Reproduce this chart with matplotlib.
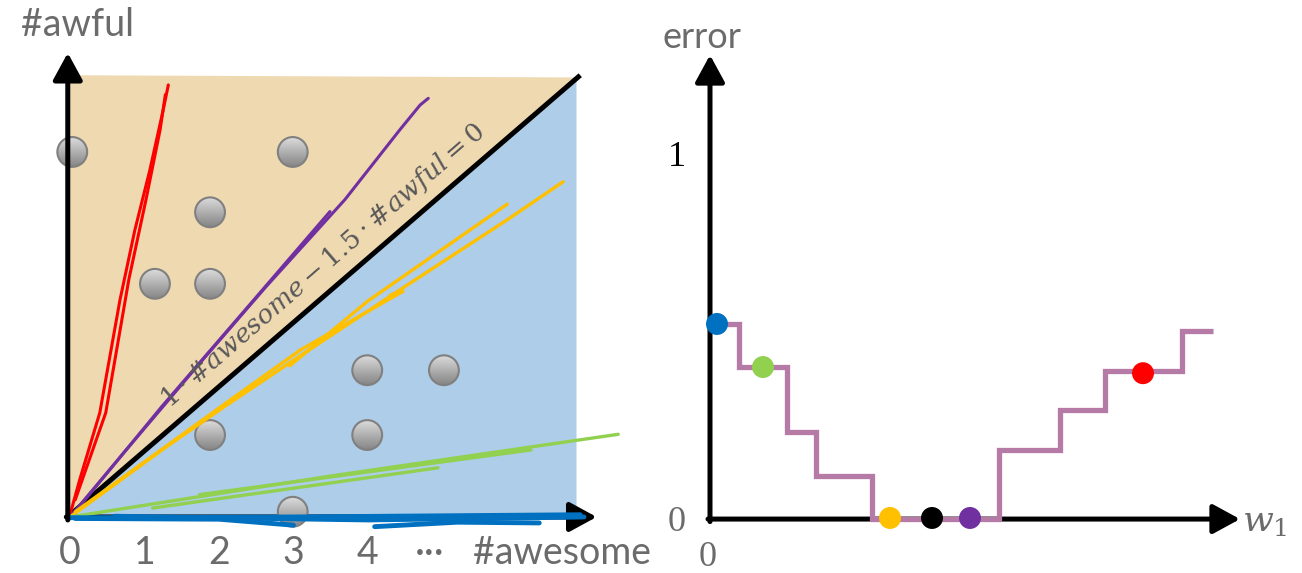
import numpy as np
import matplotlib
matplotlib.use('Agg')
import matplotlib.pyplot as plt
from matplotlib.patches import Polygon, Circle

plt.rcParams['font.family'] = ['Lato', 'DejaVu Sans']
plt.rcParams['mathtext.fontset'] = 'dejavuserif'

GRAY = '#6b6b6b'

# ---- left panel: points in (#awesome, #awful) space ----
top_x, top_y = 6.80, 5.93            # corner of the shaded region
pts_x = [0.03, 2.99, 1.88, 1.14, 1.88, 3.99, 5.02, 1.88, 3.99, 2.99]
pts_y = [4.90, 4.90, 4.09, 3.13, 3.13, 1.97, 1.97, 1.10, 1.10, 0.07]
pt_r = 0.2
tick_vals = [0, 1, 2, 3, 4]

# hand drawn candidate boundaries (several strokes each)
red_strokes = [
    ([0.0, 0.13, 0.40, 0.67, 0.87, 1.07, 1.25, 1.32],
     [0.03, 0.50, 1.40, 2.91, 3.85, 4.65, 5.46, 5.80]),
    ([0.07, 0.48, 0.79, 1.02, 1.21, 1.28],
     [0.23, 1.40, 3.19, 4.26, 5.20, 5.67]),
]
purple_strokes = [
    ([0.0, 0.72, 1.79, 2.63, 3.69, 4.43, 4.70, 4.81],
     [0.0, 0.86, 2.12, 3.09, 4.26, 5.20, 5.53, 5.62]),
    ([0.07, 1.23, 2.24, 3.49],
     [0.07, 1.48, 2.65, 4.10]),
]
orange_strokes = [
    ([0.0, 1.29, 2.07, 2.95, 4.43, 5.87, 6.62],
     [0.0, 0.94, 1.48, 2.07, 3.05, 3.99, 4.50]),
    ([0.07, 2.15, 3.09, 4.47, 4.30],
     [0.07, 1.57, 2.24, 3.03, 2.98]),
    ([2.95, 4.00, 5.87],
     [2.03, 2.90, 4.20]),
]
green_strokes = [
    ([0.0, 3.50, 7.36], [0.0, 0.55, 1.11]),
    ([1.11, 4.94], [0.12, 0.66]),
    ([1.74, 6.19], [0.30, 0.90]),
]
blue_strokes = [
    ([0.0, 3.0, 6.85], [-0.01, 0.0, 0.03]),
    ([0.07, 2.0, 3.0], [-0.02, -0.03, -0.11]),
    ([4.09, 5.2, 6.30], [-0.13, -0.07, -0.08]),
    ([0.6, 4.0, 6.9], [0.01, -0.04, 0.0]),
]

# ---- right panel: error of the step classifier vs w1 ----
w_edges = [0.02, 0.29, 0.77, 1.06, 1.62, 2.89, 3.50, 3.95, 4.72, 5.03]
err_vals = [0.54, 0.42, 0.24, 0.12, 0.0, 0.19, 0.30, 0.41, 0.52]
dot_w = [0.07, 0.53, 1.80, 2.22, 2.60, 4.33]
dot_err = [0.539, 0.420, 0.003, 0.003, 0.003, 0.403]
dot_colors = ['#0070C0', '#92D050', '#FFC000', '#000000', '#7030A0', '#FF0000']

fig = plt.figure(figsize=(13.02, 5.73), dpi=100)

ax = fig.add_axes([0, 0, 0.5, 1])
ax.set_xlim(-0.94, 7.80)
ax.set_ylim(-0.752, 6.94)
ax.axis('off')

ax.add_patch(Polygon([(0, 0), (0, top_y), (top_x, top_y - 0.03)],
                     closed=True, fc='#EFD9B0', ec='none', zorder=1))
ax.add_patch(Polygon([(0, 0), (top_x, top_y - 0.03), (top_x, 0)],
                     closed=True, fc='#AECDE8', ec='none', zorder=1))

# gradient filled points
grad = np.linspace(0.86, 0.52, 64).reshape(-1, 1)
for cx, cy in zip(pts_x, pts_y):
    im = ax.imshow(grad, cmap='gray', vmin=0, vmax=1, aspect='auto',
                   extent=[cx - pt_r, cx + pt_r, cy - pt_r, cy + pt_r],
                   origin='upper', zorder=4, interpolation='bilinear')
    clip = Circle((cx, cy), pt_r, transform=ax.transData)
    im.set_clip_path(clip)
    ax.add_patch(Circle((cx, cy), pt_r, fc='none', ec='#808080', lw=1.5, zorder=5))

for strokes, col, lw in [(red_strokes, '#FF0000', 2.2),
                         (purple_strokes, '#7030A0', 2.2),
                         (orange_strokes, '#FFC000', 2.4),
                         (green_strokes, '#92D050', 2.4),
                         (blue_strokes, '#0070C0', 3.5)]:
    for sx, sy in strokes:
        ax.plot(sx, sy, color=col, lw=lw, solid_capstyle='round', zorder=6)

ax.plot([-0.03, top_x + 0.05], [0, top_y], color='black', lw=3.6,
        solid_capstyle='butt', zorder=3)

arrow = dict(arrowstyle='-|>,head_length=0.55,head_width=0.3',
             mutation_scale=30, lw=3.6, color='black', shrinkA=0, shrinkB=0)
ax.annotate('', xy=(-0.03, 6.23), xytext=(-0.03, -0.04), arrowprops=arrow, zorder=7)
ax.annotate('', xy=(7.07, 0), xytext=(-0.05, 0), arrowprops=arrow, zorder=2)

ax.text(3.40, 3.37, r'$1\cdot$#$awesome-1.5\cdot$#$awful=0$', rotation=40.9,
        rotation_mode='anchor', ha='center', va='center', fontsize=19,
        family='DejaVu Serif', color='#595959', zorder=6)

for v in tick_vals:
    ax.text(v, -0.48, str(v), ha='center', va='center', fontsize=27, color=GRAY)
ax.text(4.83, -0.48, '···', ha='center', va='center', fontsize=27, color=GRAY)
ax.text(5.41, -0.48, '#awesome', ha='left', va='center', fontsize=27, color=GRAY)
ax.text(0.1, 6.6, '#awful', ha='center', va='center', fontsize=27, color=GRAY)

# ---- right panel ----
bx = fig.add_axes([0.5, 0, 0.5, 1])
bx.set_xlim(-0.59, 5.92)
bx.set_ylim(-0.149, 1.434)
bx.axis('off')

bx.annotate('', xy=(0, 1.282), xytext=(0, -0.007), arrowprops=arrow, zorder=2)
bx.annotate('', xy=(5.30, 0), xytext=(-0.02, 0), arrowprops=arrow, zorder=2)
bx.stairs(err_vals, w_edges, baseline=None, color='#B57BA6', lw=3.8, zorder=3)
bx.scatter(dot_w, dot_err, s=250, c=dot_colors, zorder=4, linewidths=0)

bx.text(-0.08, 1.33, 'error', ha='center', va='center', fontsize=26, color=GRAY)
bx.text(-0.33, 1.0, '1', ha='center', va='center', fontsize=26,
        family='Liberation Serif', color='black')
bx.text(-0.33, -0.01, '0', ha='center', va='center', fontsize=26,
        family='Liberation Serif', color=GRAY)
bx.text(-0.02, -0.105, '0', ha='center', va='center', fontsize=26,
        family='Liberation Serif', color=GRAY)
bx.text(5.55, -0.01, r'$w_1$', ha='center', va='center', fontsize=26, color=GRAY)

fig.savefig('out.png', dpi=100)
